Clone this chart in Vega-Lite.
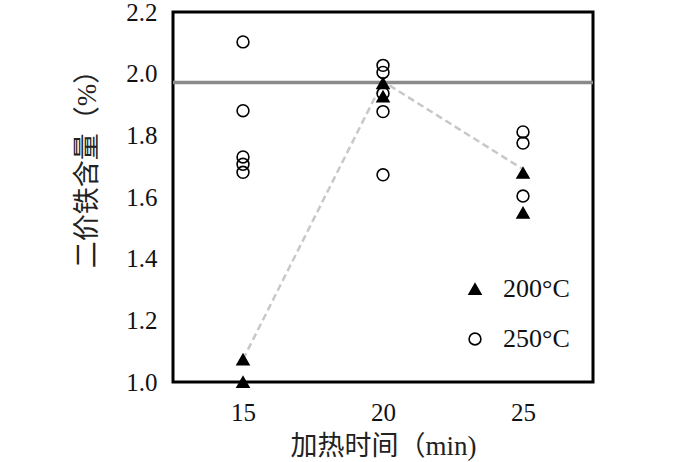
{
  "$schema": "https://vega.github.io/schema/vega-lite/v6.json",
  "width": 420,
  "height": 370,
  "autosize": {"type": "none"},
  "padding": {"left": 173, "top": 12, "right": 90, "bottom": 80},
  "background": "white",
  "config": {
    "view": {"stroke": "black", "strokeWidth": 3},
    "axis": {
      "grid": false,
      "domain": false,
      "ticks": false,
      "labelFont": "Liberation Serif",
      "labelFontSize": 25,
      "labelColor": "#111",
      "titleFont": "Liberation Serif, Noto Sans CJK SC",
      "titleFontSize": 27,
      "titleFontWeight": "normal",
      "titleColor": "#222"
    },
    "legend": {
      "labelFont": "Liberation Serif",
      "labelFontSize": 26,
      "labelColor": "#111"
    }
  },
  "datasets": {
    "points": [
      {"time": 15, "value": 1.073, "temp": "200°C"},
      {"time": 15, "value": 1.0, "temp": "200°C"},
      {"time": 20, "value": 1.969, "temp": "200°C"},
      {"time": 20, "value": 1.926, "temp": "200°C"},
      {"time": 25, "value": 1.678, "temp": "200°C"},
      {"time": 25, "value": 1.549, "temp": "200°C"},
      {"time": 15, "value": 2.103, "temp": "250°C"},
      {"time": 15, "value": 1.88, "temp": "250°C"},
      {"time": 15, "value": 1.73, "temp": "250°C"},
      {"time": 15, "value": 1.706, "temp": "250°C"},
      {"time": 15, "value": 1.68, "temp": "250°C"},
      {"time": 20, "value": 2.027, "temp": "250°C"},
      {"time": 20, "value": 2.004, "temp": "250°C"},
      {"time": 20, "value": 1.936, "temp": "250°C"},
      {"time": 20, "value": 1.877, "temp": "250°C"},
      {"time": 20, "value": 1.672, "temp": "250°C"},
      {"time": 25, "value": 1.811, "temp": "250°C"},
      {"time": 25, "value": 1.775, "temp": "250°C"},
      {"time": 25, "value": 1.603, "temp": "250°C"}
    ],
    "trend": [
      {"time": 15, "value": 1.073},
      {"time": 20, "value": 1.975},
      {"time": 25, "value": 1.69}
    ],
    "reference": [
      {"value": 1.971}
    ]
  },
  "layer": [
    {
      "data": {"name": "reference"},
      "mark": {"type": "rule", "color": "#8a8a8a", "strokeWidth": 3.5},
      "encoding": {
        "y": {"field": "value", "type": "quantitative", "scale": {"domain": [1.0, 2.2]}}
      }
    },
    {
      "data": {"name": "trend"},
      "mark": {"type": "line", "color": "#c8c8c8", "strokeWidth": 2.5, "strokeDash": [7, 4]},
      "encoding": {
        "x": {"field": "time", "type": "quantitative", "scale": {"domain": [12.5, 27.5]}},
        "y": {"field": "value", "type": "quantitative", "scale": {"domain": [1.0, 2.2]}}
      }
    },
    {
      "data": {"name": "points"},
      "mark": {"type": "point", "size": 140, "strokeWidth": 1.6, "opacity": 1, "filled": false},
      "encoding": {
        "x": {
          "field": "time",
          "type": "quantitative",
          "scale": {"domain": [12.5, 27.5]},
          "axis": {"values": [15, 20, 25], "labelPadding": 18, "titlePadding": 8},
          "title": "加热时间（min)"
        },
        "y": {
          "field": "value",
          "type": "quantitative",
          "scale": {"domain": [1.0, 2.2]},
          "axis": {"values": [1.0, 1.2, 1.4, 1.6, 1.8, 2.0, 2.2], "format": ".1f", "labelPadding": 16, "titlePadding": 24, "titleY": 150},
          "title": "二价铁含量（%）"
        },
        "shape": {
          "field": "temp",
          "type": "nominal",
          "scale": {"domain": ["200°C", "250°C"], "range": ["triangle-up", "circle"]},
          "legend": {"orient": "none", "legendX": 289, "legendY": 264, "title": null, "symbolSize": 140, "symbolStrokeWidth": 1.6, "labelOffset": 15, "rowPadding": 24}
        },
        "fill": {
          "field": "temp",
          "type": "nominal",
          "scale": {"domain": ["200°C", "250°C"], "range": ["black", "transparent"]}
        },
        "stroke": {
          "field": "temp",
          "type": "nominal",
          "scale": {"domain": ["200°C", "250°C"], "range": ["black", "black"]}
        }
      }
    }
  ]
}
